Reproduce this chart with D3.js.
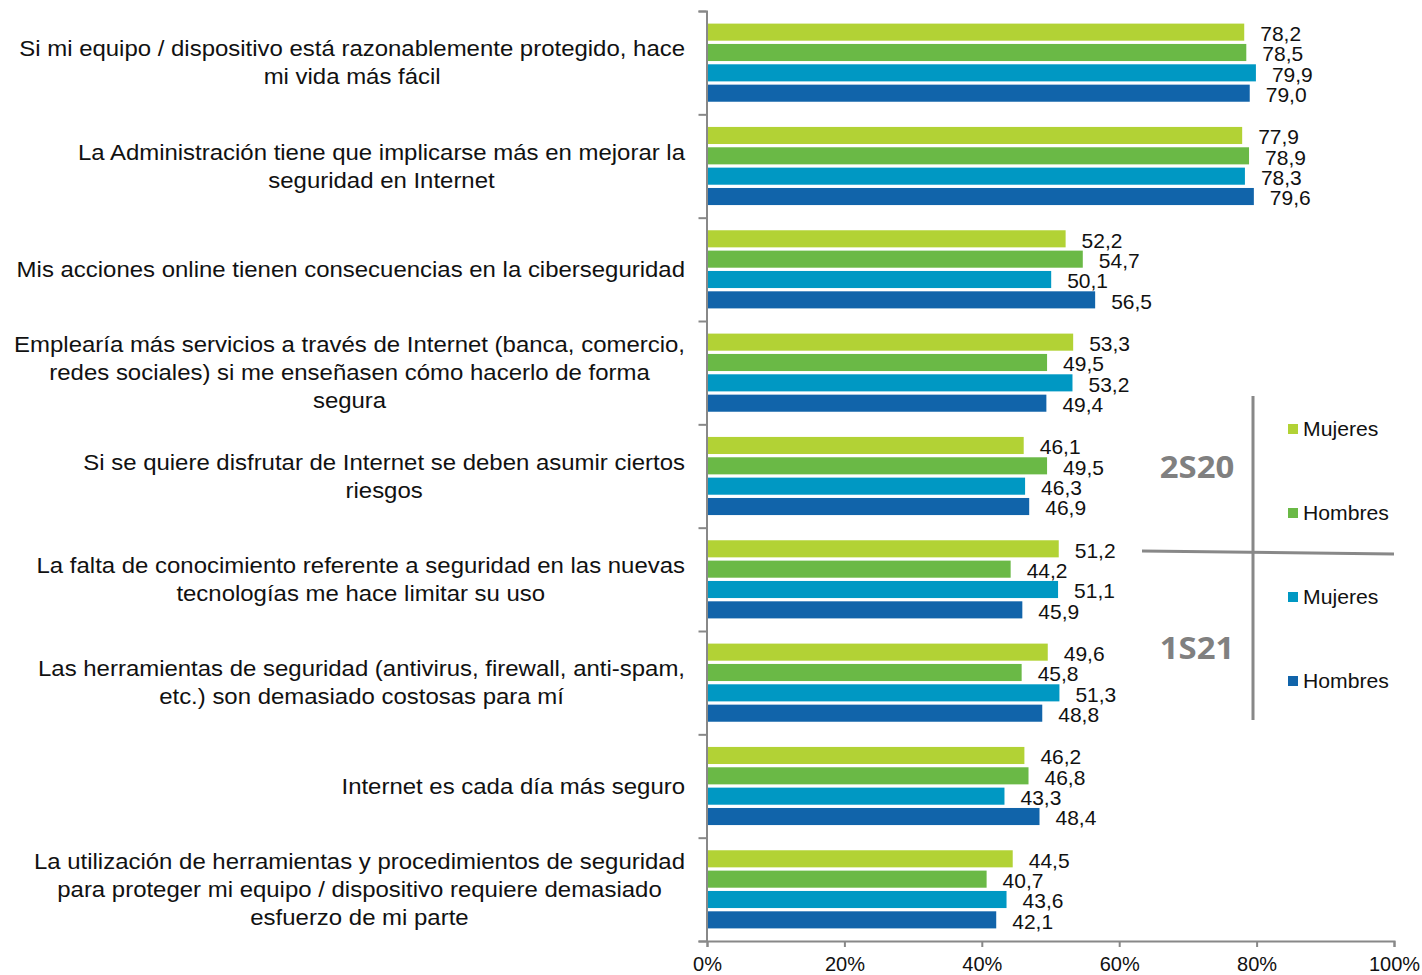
<!DOCTYPE html>
<html><head><meta charset="utf-8">
<script src="https://cdn.jsdelivr.net/npm/d3@7"></script>
<style>body{margin:0;background:#fff;} svg{display:block;} text{font-family:'Liberation Sans', Arial, Helvetica, sans-serif;}</style>
</head><body>
<svg id="c" width="1422" height="975"></svg>
<script>
const categories = [
  ["Si mi equipo / dispositivo está razonablemente protegido, hace","mi vida más fácil"],
  ["La Administración tiene que implicarse más en mejorar la","seguridad en Internet"],
  ["Mis acciones online tienen consecuencias en la ciberseguridad"],
  ["Emplearía más servicios a través de Internet (banca, comercio,","redes sociales) si me enseñasen cómo hacerlo de forma","segura"],
  ["Si se quiere disfrutar de Internet se deben asumir ciertos","riesgos"],
  ["La falta de conocimiento referente a seguridad en las nuevas","tecnologías me hace limitar su uso"],
  ["Las herramientas de seguridad (antivirus, firewall, anti-spam,","etc.) son demasiado costosas para mí"],
  ["Internet es cada día más seguro"],
  ["La utilización de herramientas y procedimientos de seguridad","para proteger mi equipo / dispositivo requiere demasiado","esfuerzo de mi parte"]
];
const mujeres2S20 = [78.2, 77.9, 52.2, 53.3, 46.1, 51.2, 49.6, 46.2, 44.5];
const hombres2S20 = [78.5, 78.9, 54.7, 49.5, 49.5, 44.2, 45.8, 46.8, 40.7];
const mujeres1S21 = [79.9, 78.3, 50.1, 53.2, 46.3, 51.1, 51.3, 43.3, 43.6];
const hombres1S21 = [79.0, 79.6, 56.5, 49.4, 46.9, 45.9, 48.8, 48.4, 42.1];
const seriesKeys = ["m20","h20","m21","h21"];
const seriesNames = ["Mujeres","Hombres","Mujeres","Hombres"];
const periods = ["2S20","1S21"];
const xTicks = [0,20,40,60,80,100];
const colors = ["#B2D235","#6AB946","#0098C3","#1164AA"];

const rows = categories.map((c,i)=>({idx:i, lines:c, m20:mujeres2S20[i], h20:hombres2S20[i], m21:mujeres1S21[i], h21:hombres1S21[i]}));

const svg = d3.select("#c");
const font = "'Liberation Sans', Arial, Helvetica, sans-serif";
const plotTop = 11, plotBottom = 941, plotLeft = 707, plotRight = 1394;

const x = d3.scaleLinear().domain([0,100]).range([plotLeft,plotRight]);
const y = d3.scaleBand().domain(d3.range(categories.length)).range([plotTop,plotBottom]).padding(0);
const ySub = d3.scaleBand().domain(seriesKeys).range([12.6, y.bandwidth()-12.6]).paddingInner(0.16).paddingOuter(0);

// bars
const g = svg.append("g");
const grp = g.selectAll("g.grp").data(rows).join("g").attr("transform",d=>`translate(0,${y(d.idx)})`);
seriesKeys.forEach((k,si)=>{
  grp.append("rect")
    .attr("x", x(0))
    .attr("y", ySub(k))
    .attr("width", d=>x(d[k])-x(0))
    .attr("height", ySub.bandwidth())
    .attr("fill", colors[si]);
  grp.append("text")
    .attr("transform", d=>`translate(${x(d[k])+16},${ySub(k)+ySub.bandwidth()/2+1.5}) scale(1.05,1)`)
    .attr("dominant-baseline","central")
    .style("font-family",font).attr("font-size",20).attr("fill","#111")
    .text(d=>d3.format(".1f")(d[k]).replace(".",","));
});

// axes
const yl = d3.scaleLinear().domain([0,categories.length]).range([plotTop,plotBottom]);
svg.append("g").attr("transform",`translate(${plotLeft-0.5},0)`)
  .call(d3.axisLeft(yl).tickValues(d3.range(categories.length+1)).tickSize(8).tickFormat(""))
  .call(a=>a.select(".domain").attr("stroke","#888").attr("stroke-width",2))
  .call(a=>a.selectAll(".tick line").attr("stroke","#888").attr("stroke-width",2));
svg.append("g").attr("transform",`translate(0,${plotBottom})`)
  .call(d3.axisBottom(x).tickValues(xTicks).tickSize(6).tickPadding(10).tickFormat(d=>d+"%"))
  .call(a=>a.select(".domain").attr("stroke","#888").attr("stroke-width",2))
  .call(a=>a.selectAll(".tick line").attr("stroke","#888").attr("stroke-width",2))
  .call(a=>a.selectAll(".tick text").style("font-family",font).attr("font-size",20).attr("fill","#111"));

// category labels
const lineH = 28, labelRight = 685;
const catSize = 21.5, catStretch = 1.115;
rows.forEach(d=>{
  const cy = y(d.idx)+y.bandwidth()/2;
  const gg = svg.append("g").attr("transform",`translate(${labelRight},0) scale(${catStretch},1)`);
  const t = gg.append("text").style("font-family",font).attr("font-size",catSize).attr("fill","#111").attr("text-anchor","middle");
  const n = d.lines.length;
  const spans = d.lines.map((ln,j)=>t.append("tspan").attr("y", cy + (j-(n-1)/2)*lineH).attr("dominant-baseline","central").text(ln));
  let maxW = 0;
  spans.forEach(s=>{maxW=Math.max(maxW,s.node().getComputedTextLength());});
  spans.forEach(s=>s.attr("x", -maxW/2));
});

// legend
const lg = svg.append("g");
lg.append("line").attr("x1",1253).attr("x2",1253).attr("y1",396).attr("y2",720).attr("stroke","#888").attr("stroke-width",3);
lg.append("line").attr("x1",1142).attr("x2",1394).attr("y1",551).attr("y2",554).attr("stroke","#888").attr("stroke-width",3);
const periodY = [466, 647];
periods.forEach((p,i)=>{
  lg.append("text").attr("transform",`translate(1197,${periodY[i]}) scale(1.06,1)`).attr("text-anchor","middle").attr("dominant-baseline","central")
    .style("font-family","'Open Sans', sans-serif").attr("font-weight","bold").attr("font-size",31).attr("fill","#808080").text(p);
});
const legY = [429, 513, 597, 681];
seriesNames.forEach((nm,i)=>{
  lg.append("rect").attr("x",1288).attr("y",legY[i]-5).attr("width",10).attr("height",10).attr("fill",colors[i]);
  lg.append("text").attr("transform",`translate(1303,${legY[i]}) scale(1.06,1)`).attr("dominant-baseline","central")
    .style("font-family",font).attr("font-size",20).attr("fill","#111").text(nm);
});
</script>
</body></html>
